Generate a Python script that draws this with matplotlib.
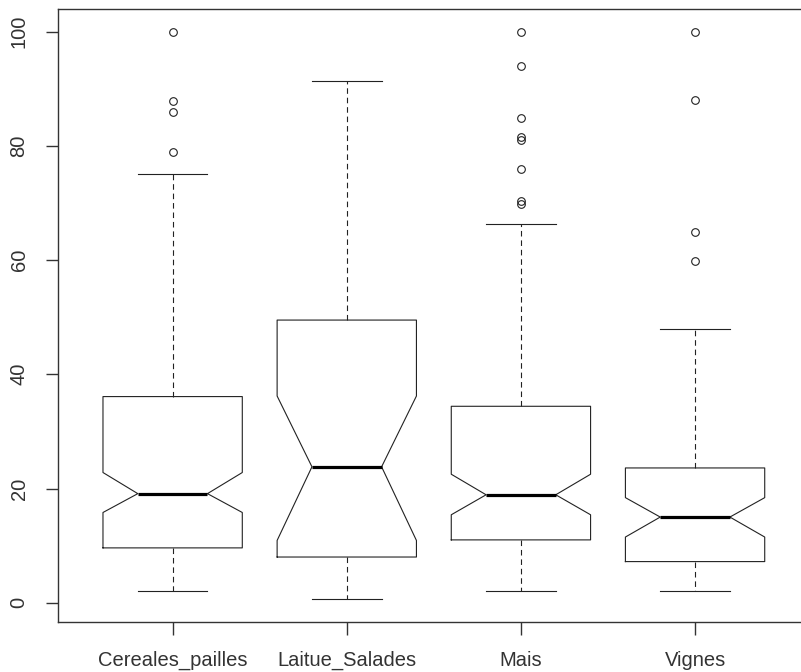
import matplotlib
matplotlib.use("Agg")
import matplotlib.pyplot as plt

plt.rcParams['font.family'] = ['Liberation Sans', 'DejaVu Sans']

# values
groups = ['Cereales_pailles', 'Laitue_Salades', 'Mais', 'Vignes']
whislo = [2.0, 0.7, 2.0, 2.0]
q1 = [9.6, 8.0, 11.0, 7.2]
med = [19.1, 23.8, 18.9, 15.0]
q3 = [36.1, 49.5, 34.4, 23.6]
whishi = [75.0, 91.4, 66.4, 47.9]
notch_lo = [15.8, 10.9, 15.4, 11.5]
notch_hi = [22.8, 36.2, 22.5, 18.4]
outliers = [
    [100, 87.9, 85.9, 78.9],
    [],
    [100, 94.0, 84.9, 81.5, 81.0, 75.9, 70.3, 69.9],
    [100, 88.0, 65.0, 59.9],
]

stats = []
for i in range(len(groups)):
    stats.append(dict(label=groups[i], whislo=whislo[i], q1=q1[i], med=med[i],
                      q3=q3[i], whishi=whishi[i], cilo=notch_lo[i],
                      cihi=notch_hi[i], fliers=outliers[i]))

fig = plt.figure(figsize=(8.01, 6.72), dpi=100)
ax = fig.add_axes([57.7 / 801, 50 / 672, 752.3 / 801, 613 / 672])

lw = 0.8
ax.bxp(stats, positions=[1, 2, 3, 4], widths=0.8, shownotches=True,
       boxprops=dict(color='#222222', linewidth=lw),
       whiskerprops=dict(color='#222222', linewidth=lw, linestyle=(0, (5, 3.5))),
       capprops=dict(color='#222222', linewidth=lw),
       medianprops=dict(color='black', linewidth=2.3, solid_capstyle='butt'),
       flierprops=dict(marker='o', markersize=5.5, markerfacecolor='none',
                       markeredgecolor='#222222', markeredgewidth=0.8))

ax.set_xlim(0.34, 4.66)
ax.set_ylim(-3.38, 103.98)
ax.set_yticks([0, 20, 40, 60, 80, 100])
ax.set_xticks([1, 2, 3, 4])
ax.set_xticklabels(groups)

for s in ax.spines.values():
    s.set_color('#333333')
    s.set_linewidth(1.0)
ax.spines['right'].set_visible(False)  # frame falls outside the picture

ax.tick_params(axis='both', length=9, width=1.0, color='#333333',
               labelsize=14.5, labelcolor='#333333')
ax.tick_params(axis='x', pad=12)
ax.tick_params(axis='y', pad=12)
for t in ax.get_yticklabels():
    t.set_rotation(90)
    t.set_va('center')

fig.savefig('out.png', dpi=100)
